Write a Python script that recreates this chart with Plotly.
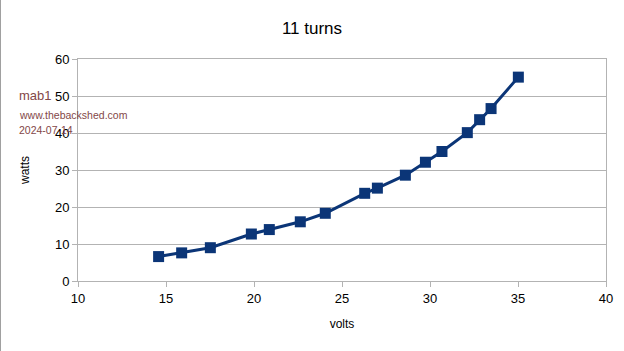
import plotly.graph_objects as go

volts = [14.58, 15.89, 17.52, 19.85, 20.87, 22.63, 24.05, 26.29, 27.01, 28.6,
         29.74, 30.68, 32.12, 32.82, 33.47, 35.02]
watts = [6.6, 7.6, 9.0, 12.7, 13.9, 16.0, 18.3, 23.7, 25.1, 28.6,
         32.1, 35.0, 40.1, 43.6, 46.6, 55.1]

title = "11 turns"
x_title = "volts"
y_title = "watts"
watermark = ["mab1", "www.thebackshed.com", "2024-07-14"]

navy = "#0b3577"
grid = "#b3b3b3"
font = "Liberation Sans, Arial, sans-serif"

fig = go.Figure()
fig.add_trace(go.Scatter(
    x=volts, y=watts, mode="lines+markers",
    line=dict(color=navy, width=3),
    marker=dict(symbol="square", size=11, color=navy),
    showlegend=False, hoverinfo="skip",
))

fig.update_layout(
    width=624, height=351,
    margin=dict(l=78, r=18, t=59, b=70),
    paper_bgcolor="white", plot_bgcolor="white",
    font=dict(family=font, color="black", size=13),
    title=dict(text=title, x=0.5, xanchor="center", y=1 - 28 / 351, yanchor="middle",
               font=dict(size=17, family=font, color="black")),
    xaxis=dict(range=[10, 40], dtick=5, tick0=10, showgrid=False,
               showline=True, linecolor=grid, linewidth=1, mirror=True,
               ticks="outside", ticklen=5, tickcolor=grid,
               tickfont=dict(size=13, family=font),
               title=dict(text=x_title, font=dict(size=12, family=font), standoff=15),
               zeroline=False, fixedrange=True),
    yaxis=dict(range=[0, 60], dtick=10, tick0=0, showgrid=True, gridcolor=grid, gridwidth=1,
               showline=True, linecolor=grid, linewidth=1, mirror=True,
               ticks="outside", ticklen=5, tickcolor=grid,
               tickfont=dict(size=13, family=font),
               title=dict(text=y_title, font=dict(size=12, family=font), standoff=22),
               zeroline=False, fixedrange=True),
    shapes=[dict(type="line", xref="paper", yref="paper", x0=-78 / 528, x1=-78 / 528,
                 y0=-70 / 222, y1=1 + 59 / 222, line=dict(color="#a0a0a0", width=2))],
)

ys = [95, 115, 130]
sizes = [13, 10.5, 10.5]
for txt, yy, sz in zip(watermark, ys, sizes):
    fig.add_annotation(text=txt, xref="paper", yref="paper",
                       x=(17 - 78) / 528, y=(281 - yy) / 222, xanchor="left", yanchor="middle",
                       showarrow=False, font=dict(size=sz, family=font, color="#834848"))

fig.write_html("out.html")
